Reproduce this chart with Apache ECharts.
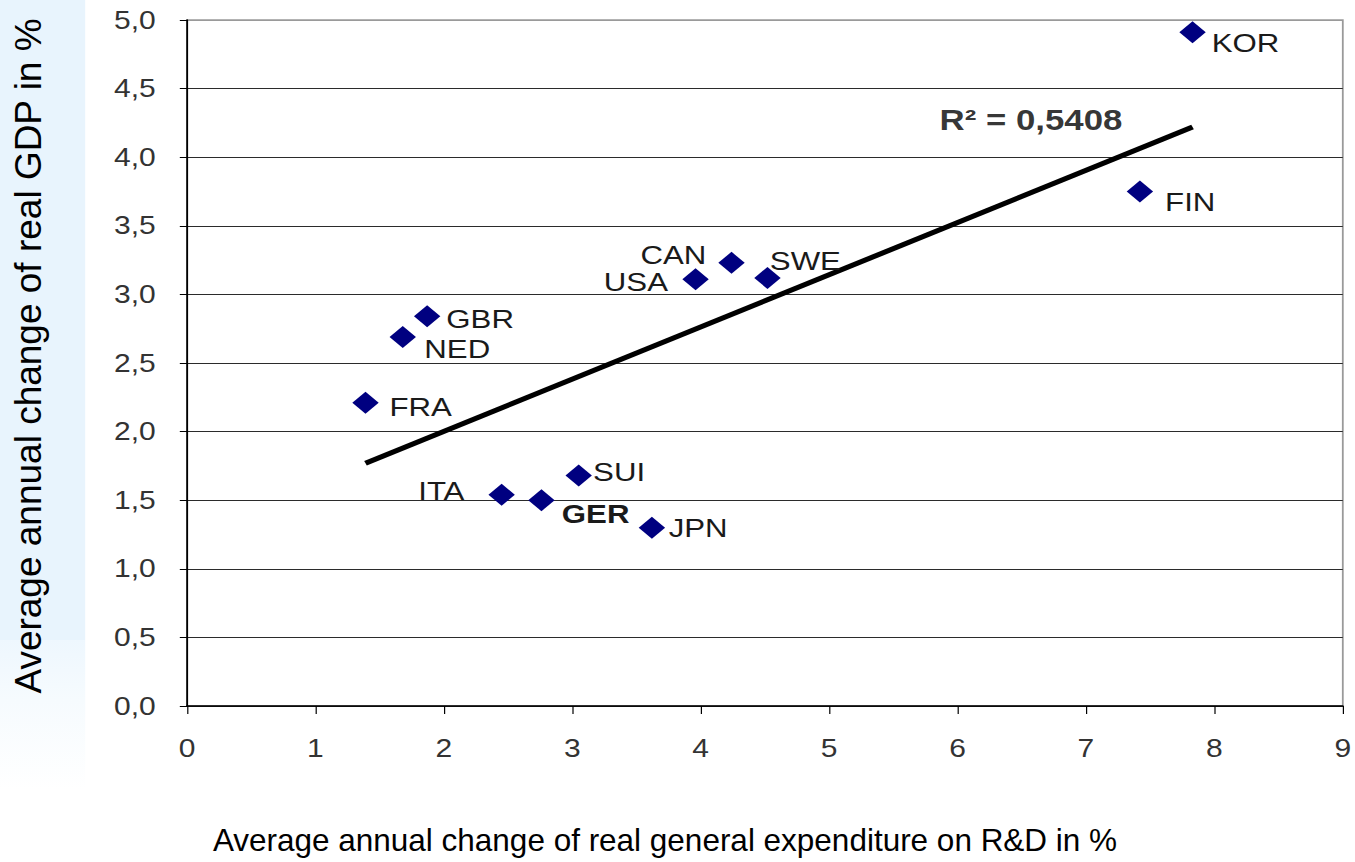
<!DOCTYPE html>
<html>
<head>
<meta charset="utf-8">
<script src="https://cdn.jsdelivr.net/npm/echarts@6/dist/echarts.min.js"></script>
<style>
html, body { margin: 0; padding: 0; background: #fff; overflow: hidden; }
#wrap { width: 1355px; height: 862px; overflow: hidden; }
/* the original picture is stretched horizontally, so the chart is drawn narrower and widened */
#main { width: 1129px; height: 862px; transform: scaleX(1.2); transform-origin: 0 0; }
</style>
</head>
<body>
<div id="wrap"><div id="main"></div></div>
<script>
// countries and their values
var countries = ['KOR', 'FIN', 'CAN', 'USA', 'SWE', 'GBR', 'NED', 'FRA', 'SUI', 'ITA', 'GER', 'JPN'];
var rdGrowth = [7.83, 7.42, 4.24, 3.96, 4.52, 1.87, 1.68, 1.39, 3.05, 2.45, 2.76, 3.62];
var gdpGrowth = [4.91, 3.75, 3.23, 3.11, 3.12, 2.84, 2.69, 2.21, 1.68, 1.54, 1.50, 1.30];
// trend line end points
var trendX = [1.39, 7.83];
var trendY = [1.77, 4.22];
var rSquared = 'R² = 0,5408';
var xTitle = 'Average annual change of real general expenditure on R&D in %';
var yTitle = 'Average annual change of real GDP in %';

var S = 1.2; // horizontal stretch

// label placement per country [position, dx, dy, bold]
var labelPos = {
  KOR: ['right', 0, 11],
  FIN: ['right', 5, 10],
  CAN: ['left', -5, -8],
  USA: ['left', -7, 3],
  SWE: ['right', -14, -17],
  GBR: ['right', 0, 3],
  NED: ['right', 2, 12],
  FRA: ['right', 4, 4],
  SUI: ['right', -4, -4],
  ITA: ['left', -15, -4],
  GER: ['right', 1, 14, true],
  JPN: ['right', -2, 0]
};

var font = 'Liberation Sans, Arial, sans-serif';

var points = countries.map(function (c, i) {
  var p = labelPos[c];
  return {
    name: c,
    value: [rdGrowth[i], gdpGrowth[i]],
    label: {
      show: true,
      formatter: c,
      position: p[0],
      offset: [p[1], p[2]],
      fontWeight: p[3] ? 'bold' : 'normal'
    }
  };
});

var trendData = trendX.map(function (x, i) { return [x, trendY[i]]; });

// 11 grid lines, the top one is the light frame
var gridColors = [];
for (var i = 0; i < 10; i++) gridColors.push('#2b2b2b');
gridColors.push('#9a9a9a');

var myChart = echarts.init(document.getElementById('main'), null, { renderer: 'svg' });
myChart.setOption({
  animation: false,
  textStyle: { fontFamily: font },
  graphic: [{
    type: 'rect',
    x: 0,
    y: 0,
    z: -10,
    shape: { width: 71, height: 640 },
    style: { fill: '#e8f4fd' }
  }, {
    type: 'rect',
    x: 0,
    y: 640,
    z: -10,
    shape: { width: 71, height: 150 },
    style: {
      fill: new echarts.graphic.LinearGradient(0, 0, 0, 1, [
        { offset: 0, color: '#eef7fe' },
        { offset: 0.4, color: '#f6fbfe' },
        { offset: 1, color: '#ffffff' }
      ])
    }
  }, {
    type: 'text',
    x: 665 / S,
    y: 840,
    scaleX: 1 / S,
    style: {
      text: xTitle,
      fontSize: 31.5,
      fontFamily: font,
      fill: '#000',
      textAlign: 'center',
      textVerticalAlign: 'middle',
      align: 'center',
      verticalAlign: 'middle'
    }
  }, {
    type: 'text',
    x: 29 / S,
    y: 356,
    rotation: Math.PI / 2,
    scaleY: 1 / S,
    style: {
      text: yTitle,
      fontSize: 37,
      fontFamily: font,
      fill: '#000',
      textAlign: 'center',
      textVerticalAlign: 'middle',
      align: 'center',
      verticalAlign: 'middle'
    }
  }],
  grid: {
    left: 187 / S,
    right: 12 / S,
    top: 20,
    bottom: 156,
    show: true,
    borderColor: '#9a9a9a',
    borderWidth: 1.5
  },
  xAxis: {
    type: 'value',
    min: 0,
    max: 9,
    interval: 1,
    axisLine: { show: true, lineStyle: { color: '#000', width: 1.5 } },
    axisTick: { show: true, inside: false, length: 8, lineStyle: { color: '#000' } },
    axisLabel: { fontSize: 25, color: '#333', margin: 30 },
    splitLine: { show: false }
  },
  yAxis: {
    type: 'value',
    min: 0,
    max: 5,
    interval: 0.5,
    axisLine: { show: true, lineStyle: { color: '#000', width: 1.5 } },
    axisTick: { show: true, inside: false, length: 6, lineStyle: { color: '#000' } },
    axisLabel: {
      fontSize: 25,
      color: '#333',
      margin: 26,
      formatter: function (v) { return v.toFixed(1).replace('.', ','); }
    },
    splitLine: { show: true, lineStyle: { color: gridColors, width: 1.2 } }
  },
  series: [{
    name: 'trend',
    type: 'line',
    data: trendData,
    symbol: 'none',
    lineStyle: { color: '#000', width: 5 },
    z: 2
  }, {
    name: 'r2',
    type: 'scatter',
    data: [trendData[1]],
    symbolSize: 1,
    itemStyle: { color: 'rgba(0,0,0,0)' },
    label: {
      show: true,
      formatter: rSquared,
      position: 'left',
      offset: [-53, -7],
      fontSize: 29,
      fontWeight: 'bold',
      color: '#000',
      fontFamily: font
    },
    silent: true,
    z: 4
  }, {
    name: 'countries',
    type: 'scatter',
    data: points,
    symbol: 'diamond',
    symbolSize: 22,
    itemStyle: { color: '#000080', opacity: 1 },
    label: { fontSize: 26, color: '#1a1a1a', fontFamily: font, distance: 5 },
    z: 3
  }]
});
</script>
</body>
</html>
